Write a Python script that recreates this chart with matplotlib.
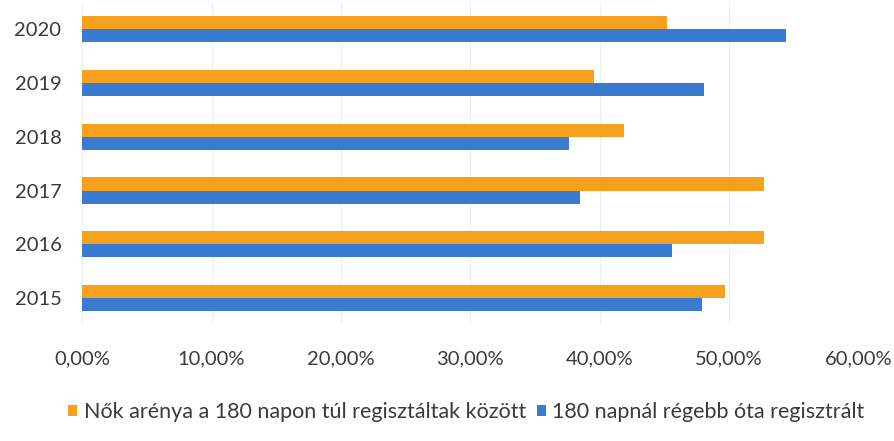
import numpy as np
import matplotlib.pyplot as plt
from matplotlib.ticker import FuncFormatter

plt.rcParams['font.family'] = ['Lato', 'DejaVu Sans']

years = ['2015', '2016', '2017', '2018', '2019', '2020']
nok_arany = [49.7, 52.7, 52.7, 41.9, 39.6, 45.2]
regebb_180 = [47.9, 45.6, 38.5, 37.6, 48.1, 54.4]

label_nok = 'Nők arénya a 180 napon túl regisztáltak között'
label_regebb = '180 napnál régebb óta regisztrált'

orange = '#F5A11E'
blue = '#3A7BD2'
text_col = '#3a3a3a'

fig = plt.figure(figsize=(8.94, 4.41), dpi=100)
ax = fig.add_axes([0.0920, 0.263, 0.868, 0.732])

y = np.arange(len(years))
h = 0.245
ax.barh(y + h / 2, nok_arany, height=h, color=orange, label=label_nok, zorder=3)
ax.barh(y - h / 2, regebb_180, height=h, color=blue, label=label_regebb, zorder=3)

ax.set_xlim(0, 60)
ax.set_ylim(-0.5, 5.5)
ax.set_xticks(np.arange(0, 61, 10))
ax.xaxis.set_major_formatter(FuncFormatter(lambda v, p: f'{v:.2f}%'.replace('.', ',')))
ax.set_yticks(y)
ax.set_yticklabels(years)

ax.grid(axis='x', color='#efefef', linewidth=0.8, zorder=0)
for s in ax.spines.values():
    s.set_visible(False)
ax.tick_params(axis='both', length=0, labelsize=14.5, colors=text_col)
ax.tick_params(axis='x', pad=18)
ax.tick_params(axis='y', pad=15)

ax.legend(loc='upper center', bbox_to_anchor=(0.495, -0.18), ncol=2, frameon=False,
          fontsize=15.5, handlelength=0.42, handleheight=0.42, handletextpad=0.3,
          columnspacing=0.5, labelcolor=text_col)

fig.savefig('out.png', dpi=100)
